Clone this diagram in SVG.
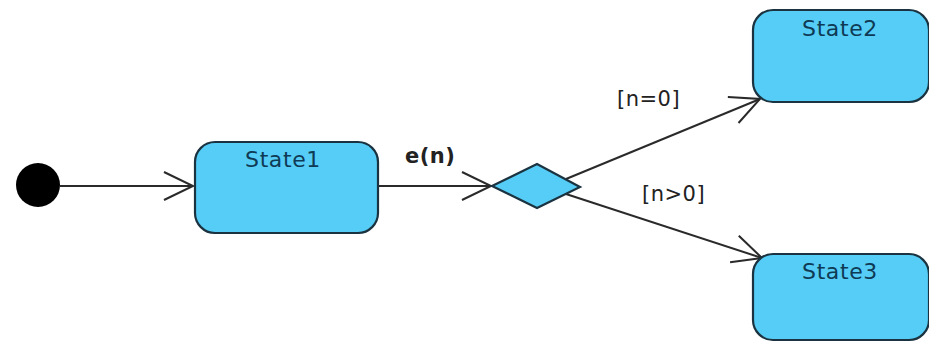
<svg xmlns="http://www.w3.org/2000/svg" width="929" height="344" viewBox="0 0 929 344">
<style>
.state{fill:#55cdf6;stroke:#1b3340;stroke-width:2.2}
.st{font-family:"DejaVu Sans","Liberation Sans",sans-serif;font-size:22px;letter-spacing:0.6px;fill:#0f3a55;text-anchor:middle}
.lbl{font-family:"DejaVu Sans","Liberation Sans",sans-serif;font-size:21px;letter-spacing:0.5px;fill:#222}
.edge{stroke:#2a2a2a;stroke-width:2;fill:none}
</style>
<defs>
<marker id="open" markerWidth="34" markerHeight="34" refX="30" refY="15" orient="auto" markerUnits="userSpaceOnUse">
<path d="M1,1 L30,15 L1,29" fill="none" stroke="#2a2a2a" stroke-width="2"/>
</marker>
</defs>
<rect width="929" height="344" fill="#fff"/>
<g id="connectors">
<line class="edge" x1="60" y1="186" x2="193" y2="186" marker-end="url(#open)"/>
<line class="edge" x1="378" y1="186" x2="491" y2="186" marker-end="url(#open)"/>
<line class="edge" x1="566" y1="179" x2="760" y2="99" marker-end="url(#open)"/>
<line class="edge" x1="566" y1="194" x2="762" y2="258" marker-end="url(#open)"/>
<text class="lbl" x="405" y="163" font-size="23" font-weight="bold" letter-spacing="0">e(n)</text>
<text class="lbl" x="617" y="106">[n=0]</text>
<text class="lbl" x="642" y="201">[n&gt;0]</text>
</g>
<g id="initial"><circle cx="38" cy="185" r="22" fill="#000"/></g>
<g id="state1"><rect class="state" x="195" y="142" width="183" height="91" rx="20"/><text class="st" x="283" y="167">State1</text></g>
<g id="decision"><polygon class="state" points="492,186 537,164 580,187 537,208"/></g>
<g id="state2"><rect class="state" x="753" y="10" width="176" height="92" rx="20"/><text class="st" x="840" y="36">State2</text></g>
<g id="state3"><rect class="state" x="753" y="254" width="176" height="86" rx="20"/><text class="st" x="840" y="279">State3</text></g>
</svg>
